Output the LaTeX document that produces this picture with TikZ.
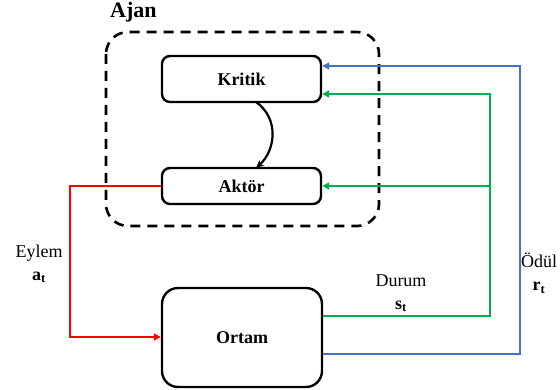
\documentclass[tikz,border=0pt]{standalone}
\usepackage{fontspec}
\setmainfont{Liberation Serif}
\usetikzlibrary{arrows.meta}
\definecolor{cblue}{HTML}{4472C4}
\definecolor{cgreen}{HTML}{00B050}
\definecolor{cred}{HTML}{FF0000}
\begin{document}
\begin{tikzpicture}[x=1pt,y=-1pt,
  box/.style={draw, line width=2.4pt, rounded corners=8pt, inner sep=0pt, font=\bfseries\fontsize{18}{20}\selectfont},
  lbl/.style={font=\fontsize{18}{21}\selectfont, align=center, inner sep=0pt},
  conn/.style={line width=2.3pt, -{Triangle[length=7pt,width=7pt]}}]
\useasboundingbox (0,0) rectangle (560,390);
\draw[line width=2.6pt, dash pattern=on 10pt off 7pt, rounded corners=22pt] (106,32) rectangle (379,226);
\node[font=\bfseries\fontsize{22}{24}\selectfont, anchor=base west, inner sep=0pt] (ajan) at (110,18) {Ajan};
\node[box, minimum width=159pt, minimum height=46pt] (kritik) at (241.5,79) {Kritik};
\node[box, minimum width=159pt, minimum height=36pt] (aktor) at (241.5,186) {Aktör};
\node[box, rounded corners=16pt, minimum width=160pt, minimum height=99pt] (ortam) at (242,337.5) {Ortam};
\draw[line width=2.2pt, -{Stealth[length=8pt,width=7pt]}] (256,102) .. controls (279,118) and (276,150) .. (256,168);
\coordinate (r1) at (70,186);
\coordinate (r2) at (70,337);
\draw[conn, cred] (aktor.west) -- (r1) -- (r2) -- (ortam.west |- r2);
\coordinate (b1) at (520,354);
\coordinate (b2) at (520,66);
\draw[conn, cblue] (ortam.east |- b1) -- (b1) -- (b2) -- (kritik.east |- b2);
\coordinate (g1) at (490,316);
\coordinate (g2) at (490,94);
\coordinate (g3) at (490,186);
\draw[conn, cgreen] (ortam.east |- g1) -- (g1) -- (g2) -- (kritik.east |- g2);
\draw[conn, cgreen] (g3) -- (aktor.east);
\node[lbl] (eylem) at (39,264) {Eylem\\[2pt] $\mathbf{a_t}$};
\node[lbl] (durum) at (401,293) {Durum\\[2pt] $\mathbf{s_t}$};
\node[lbl] (odul) at (539,273) {Ödül\\[2pt] $\mathbf{r_t}$};
\end{tikzpicture}
\end{document}
